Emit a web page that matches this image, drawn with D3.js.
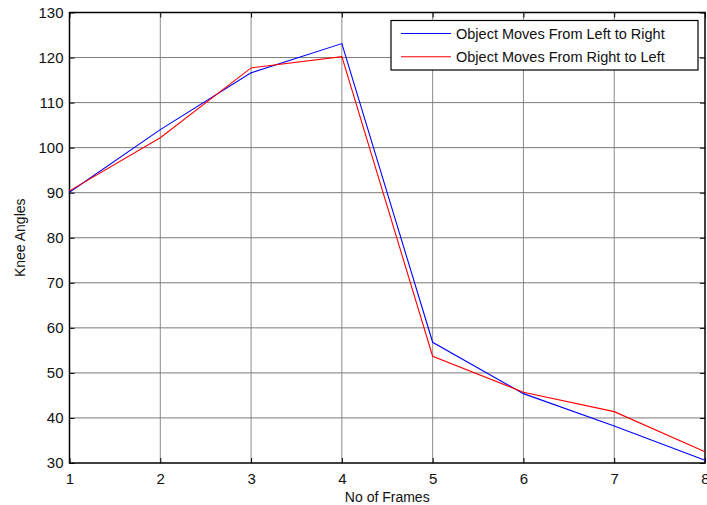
<!DOCTYPE html>
<html>
<head>
<meta charset="utf-8">
<script src="https://cdn.jsdelivr.net/npm/d3@7"></script>
<style>
  body { margin: 0; background: #fff; }
  text { font-family: "Liberation Sans", Arial, sans-serif; fill: #111; }
</style>
</head>
<body>
<div id="chart"></div>
<script>
// data
var frames = [1, 2, 3, 4, 5, 6, 7, 8];
var leftToRight = [90.1, 104.0, 116.6, 123.1, 56.8, 45.4, 38.2, 30.6];
var rightToLeft = [90.4, 102.2, 117.7, 120.2, 53.7, 45.7, 41.4, 32.5];
var seriesNames = ["Object Moves From Left to Right", "Object Moves From Right to Left"];
var seriesColors = ["#0000ff", "#ff0000"];
var yTicks = [30, 40, 50, 60, 70, 80, 90, 100, 110, 120, 130];

var svgWidth = 707;
var svgHeight = 505;

var margin = { top: 12.5, right: 2, bottom: 42, left: 69.5 };
var width = svgWidth - margin.left - margin.right;
var height = svgHeight - margin.top - margin.bottom;

var svg = d3.select("#chart")
  .append("svg")
  .attr("width", svgWidth)
  .attr("height", svgHeight);

var chartGroup = svg.append("g")
  .attr("transform", `translate(${margin.left}, ${margin.top})`);

var xScale = d3.scaleLinear().domain([1, 8]).range([0, width]);
var yScale = d3.scaleLinear().domain([30, 130]).range([height, 0]);

// grid
chartGroup.append("g")
  .selectAll("line")
  .data(frames.slice(1, -1))
  .enter()
  .append("line")
  .attr("x1", d => xScale(d)).attr("x2", d => xScale(d))
  .attr("y1", 0).attr("y2", height)
  .attr("stroke", "#8a8a8a")
  .attr("stroke-width", 1);

chartGroup.append("g")
  .selectAll("line")
  .data(yTicks.slice(1, -1))
  .enter()
  .append("line")
  .attr("y1", d => yScale(d)).attr("y2", d => yScale(d))
  .attr("x1", 0).attr("x2", width)
  .attr("stroke", "#7a7a7a")
  .attr("stroke-width", 1);

// axes (ticks inward)
var bottomAxis = d3.axisBottom(xScale).tickValues(frames).tickSizeInner(-5).tickSizeOuter(0).tickPadding(10).tickFormat(d3.format("d"));
var leftAxis = d3.axisLeft(yScale).tickValues(yTicks).tickSizeInner(-5).tickSizeOuter(0).tickPadding(6).tickFormat(d3.format("d"));
var topAxis = d3.axisTop(xScale).tickValues(frames).tickSizeInner(-5).tickSizeOuter(0).tickFormat("");
var rightAxis = d3.axisRight(yScale).tickValues(yTicks).tickSizeInner(-5).tickSizeOuter(0).tickFormat("");

var xAxis = chartGroup.append("g")
  .attr("transform", `translate(0, ${height})`)
  .call(bottomAxis);
var yAxis = chartGroup.append("g").call(leftAxis);
chartGroup.append("g").call(topAxis);
chartGroup.append("g").attr("transform", `translate(${width}, 0)`).call(rightAxis);

chartGroup.selectAll(".domain").attr("stroke", "none");
chartGroup.selectAll(".tick line").attr("stroke", "#000");
chartGroup.selectAll(".tick text").style("font-size", "15px").attr("fill", "#111");

// box
chartGroup.append("rect")
  .attr("x", 0).attr("y", 0)
  .attr("width", width).attr("height", height)
  .attr("fill", "none")
  .attr("stroke", "#000")
  .attr("stroke-width", 1.5);

// lines
var line = d3.line()
  .x((d, i) => xScale(frames[i]))
  .y(d => yScale(d));

[leftToRight, rightToLeft].forEach(function(series, i) {
  chartGroup.append("path")
    .datum(series)
    .attr("d", line)
    .attr("fill", "none")
    .attr("stroke", seriesColors[i])
    .attr("stroke-width", 1.1);
});

// legend
var legend = svg.append("g").attr("transform", "translate(391, 20.5)");
legend.append("rect")
  .attr("width", 307).attr("height", 49.5)
  .attr("fill", "#fff")
  .attr("stroke", "#000")
  .attr("stroke-width", 1.2);

seriesNames.forEach(function(name, i) {
  var yy = 13 + i * 23.3;
  legend.append("line")
    .attr("x1", 10).attr("x2", 60)
    .attr("y1", yy).attr("y2", yy)
    .attr("stroke", seriesColors[i])
    .attr("stroke-width", 1.1);
  legend.append("text")
    .attr("x", 65).attr("y", yy + 5)
    .style("font-size", "14.5px")
    .text(name);
});

// axis labels
svg.append("text")
  .attr("x", margin.left + width / 2)
  .attr("y", 502)
  .attr("text-anchor", "middle")
  .style("font-size", "14px")
  .text("No of Frames");

svg.append("text")
  .attr("transform", `translate(25, ${margin.top + height / 2}) rotate(-90)`)
  .attr("text-anchor", "middle")
  .style("font-size", "14px")
  .text("Knee Angles");
</script>
</body>
</html>
